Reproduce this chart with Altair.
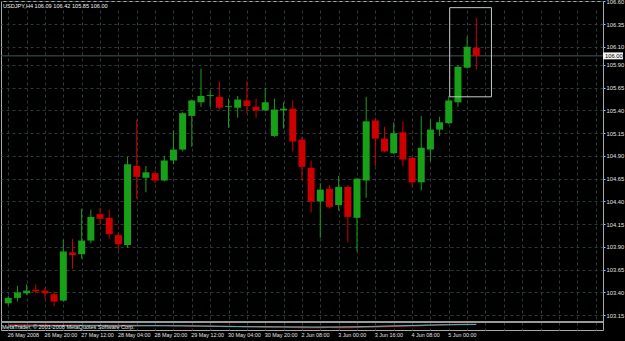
import altair as alt
import pandas as pd

# ---------------- data ----------------
candle_index = list(range(52))
open_ = [103.28, 103.34, 103.39, 103.43, 103.42, 103.38, 103.31, 103.84, 103.82, 103.97,
         104.26, 104.22, 104.03, 103.92, 104.79, 104.66, 104.71, 104.63, 104.85, 104.97,
         105.34, 105.49, 105.56, 105.55, 105.44, 105.43, 105.51, 105.44, 105.40, 105.12,
         105.40, 105.42, 105.08, 104.77, 104.40, 104.54, 104.36, 104.56, 104.22, 104.63,
         105.29, 105.09, 104.93, 105.16, 104.88, 104.61, 104.97, 105.19, 105.26, 105.49,
         105.87, 106.09]
high = [103.36, 103.47, 103.49, 103.49, 103.45, 103.41, 103.98, 103.99, 104.32, 104.31,
        104.33, 104.31, 104.06, 104.89, 105.30, 104.79, 104.74, 104.90, 105.18, 105.38,
        105.52, 105.86, 105.62, 105.72, 105.53, 105.56, 105.72, 105.53, 105.65, 105.53,
        105.49, 105.51, 105.11, 104.85, 104.60, 104.58, 104.68, 104.58, 104.66, 105.55,
        105.32, 105.22, 105.27, 105.28, 104.89, 105.34, 105.30, 105.33, 105.56, 105.90,
        106.21, 106.42]
low = [103.26, 103.30, 103.37, 103.39, 103.33, 103.25, 103.30, 103.66, 103.77, 103.94,
       104.14, 103.99, 103.87, 103.89, 104.43, 104.50, 104.60, 104.62, 104.81, 104.95,
       105.00, 105.44, 105.44, 105.41, 105.21, 105.32, 105.37, 105.32, 105.39, 105.11,
       105.20, 104.95, 104.63, 104.28, 104.00, 104.32, 104.30, 103.95, 103.85, 104.44,
       104.79, 104.94, 104.92, 104.79, 104.56, 104.52, 104.84, 105.12, 105.25, 105.44,
       105.86, 105.85]
close = [103.34, 103.40, 103.42, 103.41, 103.39, 103.30, 103.85, 103.81, 103.97, 104.23,
         104.21, 104.04, 103.93, 104.81, 104.67, 104.72, 104.63, 104.85, 104.97, 105.37,
         105.51, 105.56, 105.57, 105.43, 105.45, 105.52, 105.45, 105.40, 105.49, 105.41,
         105.42, 105.06, 104.78, 104.40, 104.53, 104.34, 104.56, 104.23, 104.65, 105.28,
         105.09, 104.95, 105.15, 104.86, 104.61, 104.99, 105.19, 105.27, 105.51, 105.88,
         106.10, 106.00]

time_tick_index = [0, 4, 8, 12, 16, 20, 24, 28, 32, 36, 40, 44, 48]
time_labels = ["26 May 2008", "26 May 20:00", "27 May 12:00", "28 May 04:00",
               "28 May 20:00", "29 May 12:00", "30 May 04:00", "30 May 20:00",
               "2 Jun 08:00", "3 Jun 00:00", "3 Jun 16:00", "4 Jun 08:00", "5 Jun 00:00"]
price_ticks = [106.60, 106.35, 106.10, 105.90, 105.65, 105.40, 105.15, 104.90,
               104.65, 104.40, 104.15, 103.90, 103.65, 103.40, 103.15]

title_text = ["USDJPY,H4  106.09 106.42 105.85 106.00"]
bid_price = [106.00]
box_x = [48.1, 52.65]
box_price = [106.53, 105.55]

ind_red = [0.78, 0.78, 0.76, 0.76, 0.75, 0.74, 0.74, 0.75, 0.74, 0.73,
           0.72, 0.72, 0.70, 0.70, 0.70, 0.68, 0.67, 0.66, 0.64, 0.62,
           0.60, 0.58, 0.55, 0.52, 0.50, 0.47, 0.44, 0.42, 0.40, 0.38,
           0.36, 0.33, 0.30, 0.28, 0.30, 0.32, 0.30, 0.30, 0.34, 0.40,
           0.45, 0.50, 0.55, 0.60, 0.65, 0.70, 0.76, 0.82, 0.88, 0.90,
           0.92, 0.92]
ind_cyan = [0.60, 0.60, 0.62, 0.62, 0.60, 0.60, 0.62, 0.65, 0.66, 0.66,
            0.65, 0.64, 0.63, 0.64, 0.65, 0.66, 0.66, 0.66, 0.65, 0.64,
            0.62, 0.60, 0.57, 0.54, 0.52, 0.50, 0.48, 0.46, 0.45, 0.44,
            0.43, 0.42, 0.42, 0.40, 0.40, 0.41, 0.42, 0.44, 0.46, 0.50,
            0.54, 0.58, 0.62, 0.66, 0.70, 0.74, 0.78, 0.82, 0.85, 0.88,
            0.90, 0.92]
ind_text = ["MetaTrader, \u00a9 2001-2008 MetaQuotes Software Corp."]

# ---------------- tables ----------------
df = pd.DataFrame({"i": candle_index, "open": open_, "high": high,
                   "low": low, "close": close})
df["dir"] = ["up" if c >= o else "down" for o, c in zip(open_, close)]
df_ind = pd.DataFrame({"i": candle_index, "red": ind_red, "cyan": ind_cyan})
df_title = pd.DataFrame({"t": title_text})
df_bid = pd.DataFrame({"p": bid_price, "lo": [bid_price[0] - 0.038],
                       "hi": [bid_price[0] + 0.038], "t": ["%.2f" % bid_price[0]]})
df_box = pd.DataFrame({"x0": [box_x[0]], "x1": [box_x[1]],
                       "top": [box_price[0]], "bot": [box_price[1]]})
df_indtext = pd.DataFrame({"t": ind_text})

# ---------------- styles ----------------
FONT = "Liberation Sans"
GRID = "#2c3a3a"
LBL = "#e0e0e0"
W, H = 602, 329

labels_js = "[" + ",".join("'%s'" % s for s in time_labels) + "]"
label_expr = ("(datum.value % 4 == 0 && datum.value <= 48) ? "
              + labels_js + "[datum.value / 4] : ''")

xscale = alt.Scale(domain=[-0.246, 64.26], nice=False, zero=False)
xaxis = alt.Axis(values=list(range(0, 65, 2)), grid=True, gridColor=GRID,
                 gridDash=[3, 3], gridWidth=1, ticks=False, domain=False,
                 labelExpr=label_expr, labelAlign="left", labelBaseline="top",
                 labelFontSize=5.4, labelColor=LBL, labelFont=FONT, labelPadding=2,
                 labelOffset=-1, labelFlush=False, labelOverlap=False,
                 labelBound=False, title=None)
yscale = alt.Scale(domain=[103.086, 106.603], range=[320, 0], nice=False, zero=False)
yaxis = alt.Axis(orient="right", values=price_ticks, format=".2f", grid=True,
                 gridColor=GRID, gridDash=[3, 3], gridWidth=1, ticks=True,
                 tickSize=2, tickColor="#c0c0c0", domain=False, labelFontSize=5.8,
                 labelColor=LBL, labelFont=FONT, labelPadding=1,
                 labelOverlap=False, labelFlush=False, labelBound=False, title=None)


def X(f):
    return alt.X(f, scale=xscale, axis=xaxis)


def Y(f):
    return alt.Y(f, scale=yscale, axis=yaxis)


bid_line = alt.Chart(df_bid).mark_rule(color="#465656", strokeWidth=1).encode(y=Y("p:Q"))

wicks = alt.Chart(df).mark_rule(strokeWidth=1, opacity=1).encode(
    x=X("i:Q"), y=Y("low:Q"), y2="high:Q",
    color=alt.Color("dir:N", scale=alt.Scale(domain=["up", "down"],
                                             range=["#18a018", "#cc0000"]), legend=None))
bodies = alt.Chart(df).mark_bar(size=7, opacity=1, fillOpacity=1).encode(
    x=X("i:Q"), y=Y("open:Q"), y2="close:Q",
    color=alt.Color("dir:N", scale=alt.Scale(domain=["up", "down"],
                                             range=["#00dc00", "#ff0000"]), legend=None))
box = alt.Chart(df_box).mark_rect(fillOpacity=0, stroke="#c8c8c8", strokeWidth=1).encode(
    x=X("x0:Q"), x2="x1:Q", y=Y("top:Q"), y2="bot:Q")
title = alt.Chart(df_title).mark_text(align="left", baseline="top", fontSize=5.6,
                                      font=FONT, color="#f0f0f0").encode(
    x=alt.value(2), y=alt.value(3), text="t:N")
bid_bg = alt.Chart(df_bid).mark_rect(color="#f4f4f4").encode(
    x=alt.value(602), x2=alt.value(622), y=Y("lo:Q"), y2="hi:Q")
bid_txt = alt.Chart(df_bid).mark_text(align="left", baseline="middle", fontSize=5.8,
                                      font=FONT, color="black").encode(
    x=alt.value(604), y=Y("p:Q"), text="t:N")

main = alt.layer(bid_line, wicks, bodies, box, title, bid_bg, bid_txt)

iscale = alt.Scale(domain=[0, 1], range=[328, 323], nice=False, zero=False)
red_line = alt.Chart(df_ind).mark_line(color="#ff1010", strokeWidth=1.3).encode(
    x=X("i:Q"), y=alt.Y("red:Q", scale=iscale, axis=None))
cyan_line = alt.Chart(df_ind).mark_line(color="#20c8d0", strokeWidth=1).encode(
    x=X("i:Q"), y=alt.Y("cyan:Q", scale=iscale, axis=None))
ind_label = alt.Chart(df_indtext).mark_text(align="left", baseline="middle",
                                            fontSize=5.5, font=FONT,
                                            color="#e8e8e8").encode(
    x=alt.value(1), y=alt.value(325.5), text="t:N")
ind = alt.layer(red_line, cyan_line, ind_label)

sep = alt.Chart(df_title).mark_rule(color="#9a9a9a", strokeWidth=2).encode(
    x=alt.value(0), x2=alt.value(W), y=alt.value(321))

chart = alt.layer(main, ind, sep).resolve_scale(y="independent").properties(
    width=W, height=H,
    autosize=alt.AutoSizeParams(type="none"),
    padding={"left": 1, "top": 1, "right": 22, "bottom": 11},
    background="black",
).configure_view(stroke="#a8a8a8", strokeWidth=1)

chart.save("out.html", embed_options={"renderer": "svg", "actions": False})
